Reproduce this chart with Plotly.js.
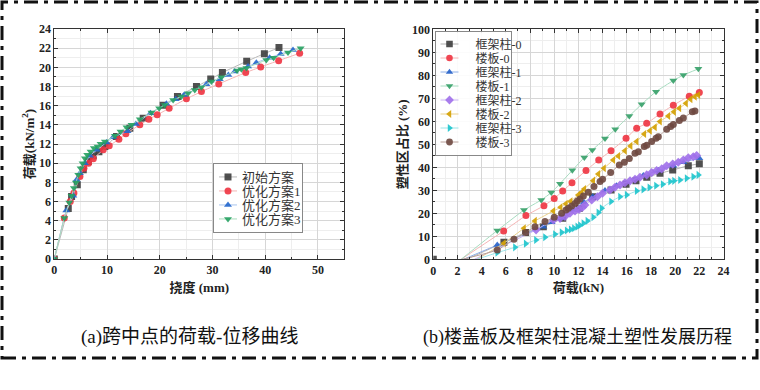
<!DOCTYPE html>
<html><head><meta charset="utf-8">
<script src="https://cdn.plot.ly/plotly-3.0.1.min.js"></script>
<style>html,body{margin:0;padding:0;background:#fff}#c{width:760px;height:390px}</style>
</head><body><div id="c"></div>
<script>
// ---- (a) load-deflection data: deflection (mm), load (kN/m2)
const aNames = ['初始方案','优化方案1','优化方案2','优化方案3'];
const a0x = [0,2.65,3.28,4.36,5.49,6.44,7.39,8.46,9.6,11.8,14.33,16.86,20.64,23.36,26.96,29.67,31.88,36.49,39.84,42.61];
const a0y = [0,5.28,6.53,7.75,9.31,10.18,10.77,11.18,11.74,12.78,13.65,14.69,16.05,16.95,17.99,18.79,19.45,20.63,21.43,22.06];
const a1x = [0,1.89,3.03,3.72,4.86,5.62,6.5,7.39,9.28,10.42,12.25,13.57,16.22,17.93,19.51,21.78,25.06,27.9,31.19,36.3,39.14,42.55,46.53];
const a1y = [0,4.27,6.0,6.88,8.61,9.48,10.0,10.45,11.39,11.81,12.5,13.06,14.0,14.59,15.04,15.73,16.71,17.47,18.27,19.45,20.04,20.7,21.47];
const a2x = [0,2.27,3.6,4.23,4.86,5.8,6.75,8.02,9.91,11.17,13.89,15.47,18.24,21.27,23.04,24.62,28.85,31.38,33.02,34.22,36.74,38.32,40.85,42.93,45.27];
const a2y = [0,5.07,6.6,8.27,8.96,10.0,10.77,11.39,12.16,12.71,13.34,14.1,15.21,16.19,16.67,17.12,18.24,18.76,19.21,19.56,20.08,20.49,21.01,21.4,21.81];
const a3x = [0,1.89,2.84,3.28,3.72,4.1,4.55,4.99,5.37,5.8,6.25,6.88,7.51,8.21,8.78,9.6,11.49,12.56,13.7,14.65,16.22,18.43,19.89,20.96,22.54,24.12,25.38,26.64,27.9,29.8,31.69,34.66,35.48,36.43,40.21,41.6,44.32,46.72];
const a3y = [0,4.27,5.9,6.6,7.4,7.99,8.79,9.48,10.0,10.52,10.87,11.22,11.57,11.74,12.02,12.26,12.85,13.3,13.75,14.0,14.59,15.28,15.73,16.08,16.6,16.95,17.3,17.64,17.92,18.51,18.96,19.66,19.8,19.94,20.77,21.01,21.54,21.99];

// ---- (b) plastic zone ratio data: load (kN), ratio (%)
const bNames = ['框架柱-0','楼板-0','框架柱-1','楼板-1','框架柱-2','楼板-2','框架柱-3','楼板-3'];
const b0x = [0,2.6,5.84,7.64,9.1,10.7,12.08,13.18,14.7,15.94,16.76,17.65,18.75,19.8,21.09,22.0];
const b0y = [0,0,7.4,11.6,14.2,17.8,22.2,27.2,30.1,32.6,34.2,35.7,37.4,38.8,40.7,41.5];
const b1x = [2.3,5.82,7.66,9.15,10.0,10.7,11.47,12.63,13.68,14.7,15.94,16.82,17.65,18.75,19.85,21.17,22.0];
const b1y = [0,12.3,19.0,23.3,26.4,29.7,33.3,38.6,43.2,47.2,52.6,57.0,59.1,63.2,67.0,70.9,72.5];
const b2x = [2.5,5.29,9.1,9.79,10.53,11.52,12.46,13.18,14.2,15.16,17.37,18.61,19.85,20.68,22.0];
const b2y = [0,6.2,14.2,16.1,17.8,21.4,24.8,27.2,29.9,32.0,36.4,38.6,40.7,42.2,43.9];
const b3x = [2.3,5.29,7.5,8.93,9.76,10.48,11.5,12.49,13.15,14.2,15.05,16.21,17.23,18.42,19.85,20.68,21.92];
const b3y = [0,12.5,21.4,25.8,29.0,32.9,38.7,44.3,47.5,52.5,56.5,62.3,67.4,72.9,77.7,80.1,82.8];
const b4x = [3.4,8.5,9.93,10.48,10.89,11.3,11.72,12.05,12.35,12.54,13.1,13.57,14.0,14.61,15.03,15.44,15.85,16.27,16.68,17.09,17.65,18.06,18.47,18.89,19.3,19.8,20.26,20.68,21.09,21.5,21.78];
const b4y = [0,12.8,17.1,17.8,18.6,20.0,21.0,21.7,22.6,23.6,25.8,27.2,28.7,30.1,31.3,32.3,33.3,34.1,34.8,35.7,36.7,37.7,38.6,39.3,40.7,41.4,42.2,43.2,44.1,44.6,45.1];
const b5x = [3.6,5.84,7.5,8.41,9.93,10.53,10.97,11.36,12.0,12.27,12.49,13.23,13.65,14.12,14.89,15.3,15.85,16.32,16.82,17.45,17.92,18.33,18.75,19.44,19.91,20.35,20.9,21.28,21.64,21.92];
const b5y = [0,7.0,13.5,16.7,21.0,22.6,24.1,25.2,28.0,29.0,30.6,34.2,37.1,39.6,43.2,44.9,47.2,49.3,51.2,54.5,55.9,57.4,59.9,62.3,64.1,65.7,67.8,69.6,70.7,71.4];
const b6x = [3.6,5.29,6.75,7.64,8.49,9.24,10.06,10.61,11.03,11.36,11.63,11.91,12.13,12.41,12.74,13.23,13.65,13.92,14.7,15.44,15.99,16.82,17.37,17.87,18.42,18.97,19.58,19.91,20.4,20.95,21.5,21.92];
const b6y = [0,2.9,5.2,6.8,8.4,9.6,10.9,11.7,12.5,13.0,13.5,14.2,14.8,15.7,16.7,18.3,20.3,22.2,25.1,27.2,28.0,29.7,30.4,31.2,32.0,32.6,33.8,34.1,34.5,35.2,35.9,36.7];
const b7x = [2.4,5.29,6.67,7.64,8.41,9.24,10.0,10.61,10.97,11.17,11.44,11.72,11.91,12.13,12.41,12.82,13.29,13.79,14.0,14.67,15.38,15.8,16.21,16.68,16.96,17.45,17.65,18.06,18.42,18.61,19.3,19.63,19.85,20.35,20.68,21.42,21.64];
const b7y = [0,4.06,8.7,11.6,14.2,16.4,18.3,20.0,21.4,22.2,23.2,24.3,25.4,26.2,27.5,29.1,31.6,33.8,34.8,37.7,41.0,42.2,43.8,46.1,46.8,49.0,49.6,51.2,52.6,53.3,56.5,57.7,58.6,60.3,61.4,64.1,64.5];

const captionA = '(a)跨中点的荷载-位移曲线';
const captionB = '(b)楼盖板及框架柱混凝土塑性发展历程';

const serif = 'Liberation Serif, Noto Sans CJK SC, serif';

function mk(x, y, name, sym, mc, lc, xa, ya, leg) {
  // hide markers at zero-onset points (line start only)
  const sizes = x.map((v, i) => (y[i] === 0 && v > 0) ? 0 : 7);
  return {x, y, name, type:'scatter', mode:'lines+markers', xaxis:xa, yaxis:ya, legend:leg,
    line:{color:lc, width:1, shape:'spline', smoothing:0.5},
    marker:{symbol:sym, color:mc, size:sizes, opacity:0.9, line:{width:0}}};
}

const aSeries = [[a0x,a0y],[a1x,a1y],[a2x,a2y],[a3x,a3y]];
const aSym = ['square','circle','triangle-up','triangle-down'];
const aMc = ['#3d3d3d','#ee3340','#2266cc','#25a060'];
const aLc = ['#b8b8b8','#f4b4b4','#a8c4ee','#a8dcbc'];
const bSeries = [[b0x,b0y],[b1x,b1y],[b2x,b2y],[b3x,b3y],[b4x,b4y],[b5x,b5y],[b6x,b6y],[b7x,b7y]];
const bSym = ['square','circle','triangle-up','triangle-down','diamond','triangle-left','triangle-right','circle'];
const bMc = ['#3d3d3d','#ee3340','#2560c8','#35a068','#a070ea','#d4a000','#1cc4cc','#6e4840'];
const bLc = ['#b0b0b0','#f4b4b4','#90b0e8','#a8dcc0','#c8b0f4','#ead08a','#9ae4e8','#b8a09a'];

const data = [];
aSeries.forEach((s, i) => data.push(mk(s[0], s[1], aNames[i], aSym[i], aMc[i], aLc[i], 'x', 'y', 'legend')));
bSeries.forEach((s, i) => data.push(mk(s[0], s[1], bNames[i], bSym[i], bMc[i], bLc[i], 'x2', 'y2', 'legend2')));

function ax(dom, range, dtick, mdtick, title, anchor, standoff) {
  return {domain:dom, range, dtick, anchor, showline:true, mirror:'ticks', linecolor:'#333', linewidth:1,
    ticks:'inside', ticklen:4, tickcolor:'#333', zeroline:false,
    showgrid:true, gridcolor:'#d6d6d6', gridwidth:1,
    minor:{dtick:mdtick, showgrid:true, gridcolor:'#eeeeee', ticks:'inside', ticklen:2, tickcolor:'#333'},
    tickfont:{family:serif, size:12, color:'#222', weight:'bold'},
    title:{text:title, font:{family:serif, size:13, color:'#222', weight:'bold'}, standoff:standoff}};
}

const W = 760, H = 390;
const px = v => v / W, py = v => (H - v) / H;

const layout = {
  width:W, height:H, margin:{l:0,r:0,t:0,b:0}, paper_bgcolor:'#fff', plot_bgcolor:'#fff', showlegend:true,
  xaxis: ax([px(54.3), px(344.3)], [0,55], 10, 5, '挠度 (mm)', 'y', 6),
  yaxis: ax([py(259), py(29)], [0,24], 2, 1, '荷载(kN/m<sup>2</sup>)', 'x', 1),
  xaxis2: ax([px(433.3), px(723.5)], [0,24], 2, 1, '荷载(kN)', 'y2', 6),
  yaxis2: ax([py(259.3), py(29.3)], [0,100], 10, 5, '塑性区占比 (%)', 'x2', 1),
  legend:{x:px(213), y:py(163), xanchor:'left', yanchor:'top', bgcolor:'#fff', bordercolor:'#888', borderwidth:1,
    font:{family:serif, size:13, color:'#333'}, tracegroupgap:0, itemwidth:30},
  legend2:{x:px(434.5), y:py(30.5), xanchor:'left', yanchor:'top', bgcolor:'rgba(255,255,255,0.9)', bordercolor:'#888', borderwidth:1,
    font:{family:serif, size:12, color:'#333'}, tracegroupgap:0, itemwidth:30},
  shapes:[{type:'rect', xref:'paper', yref:'paper', x0:px(2), x1:px(757), y0:py(358), y1:py(2),
    line:{color:'#111', width:3, dash:'14px,6px,4px,6px'}}],
  annotations:[
    {text:captionA, xref:'paper', yref:'paper', x:px(189), y:py(337), showarrow:false, xanchor:'center', yanchor:'middle',
      font:{family:serif, size:19, color:'#111'}},
    {text:captionB, xref:'paper', yref:'paper', x:px(577), y:py(337), showarrow:false, xanchor:'center', yanchor:'middle',
      font:{family:serif, size:18, color:'#111'}}
  ]
};

// tighten legend rows and symbol area to match the reference
function tighten(cls, step, shiftX) {
  const g = document.querySelector('g.' + cls);
  if (!g) return;
  const items = g.querySelectorAll('g.traces');
  if (!items.length) return;
  const parse = el => {
    const m = /translate\(\s*([-\d.]+)[ ,]+([-\d.]+)/.exec(el.getAttribute('transform') || '');
    return m ? [parseFloat(m[1]), parseFloat(m[2])] : [0, 0];
  };
  const p0 = parse(items[0]);
  const pN = parse(items[items.length - 1]);
  const oldStep = items.length > 1 ? (pN[1] - p0[1]) / (items.length - 1) : step;
  items.forEach((el, i) => {
    const p = parse(el);
    el.setAttribute('transform', 'translate(' + p[0] + ',' + (p0[1] - 2 + i * step) + ')');
    el.querySelectorAll('text.legendtext').forEach(t => {
      t.setAttribute('x', parseFloat(t.getAttribute('x') || 40) - shiftX);
      t.querySelectorAll('tspan[x]').forEach(s => s.setAttribute('x', parseFloat(s.getAttribute('x')) - shiftX));
    });
    el.querySelectorAll('g.legendlines path').forEach(pth => pth.setAttribute('d', 'M5,0h18'));
    el.querySelectorAll('g.legendpoints path.scatterpts').forEach(pt => pt.setAttribute('transform', 'translate(14,0)'));
  });
  const shrink = (oldStep - step) * (items.length - 1) + 4;
  g.querySelectorAll('rect.bg').forEach(r => {
    r.setAttribute('height', parseFloat(r.getAttribute('height')) - shrink);
    r.setAttribute('width', parseFloat(r.getAttribute('width')) - shiftX - 4);
  });
}

Plotly.newPlot('c', data, layout, {displayModeBar:false, staticPlot:true}).then(() => {
  tighten('legend', 14, 12);
  tighten('legend2', 14, 12);
});
</script></body></html>
